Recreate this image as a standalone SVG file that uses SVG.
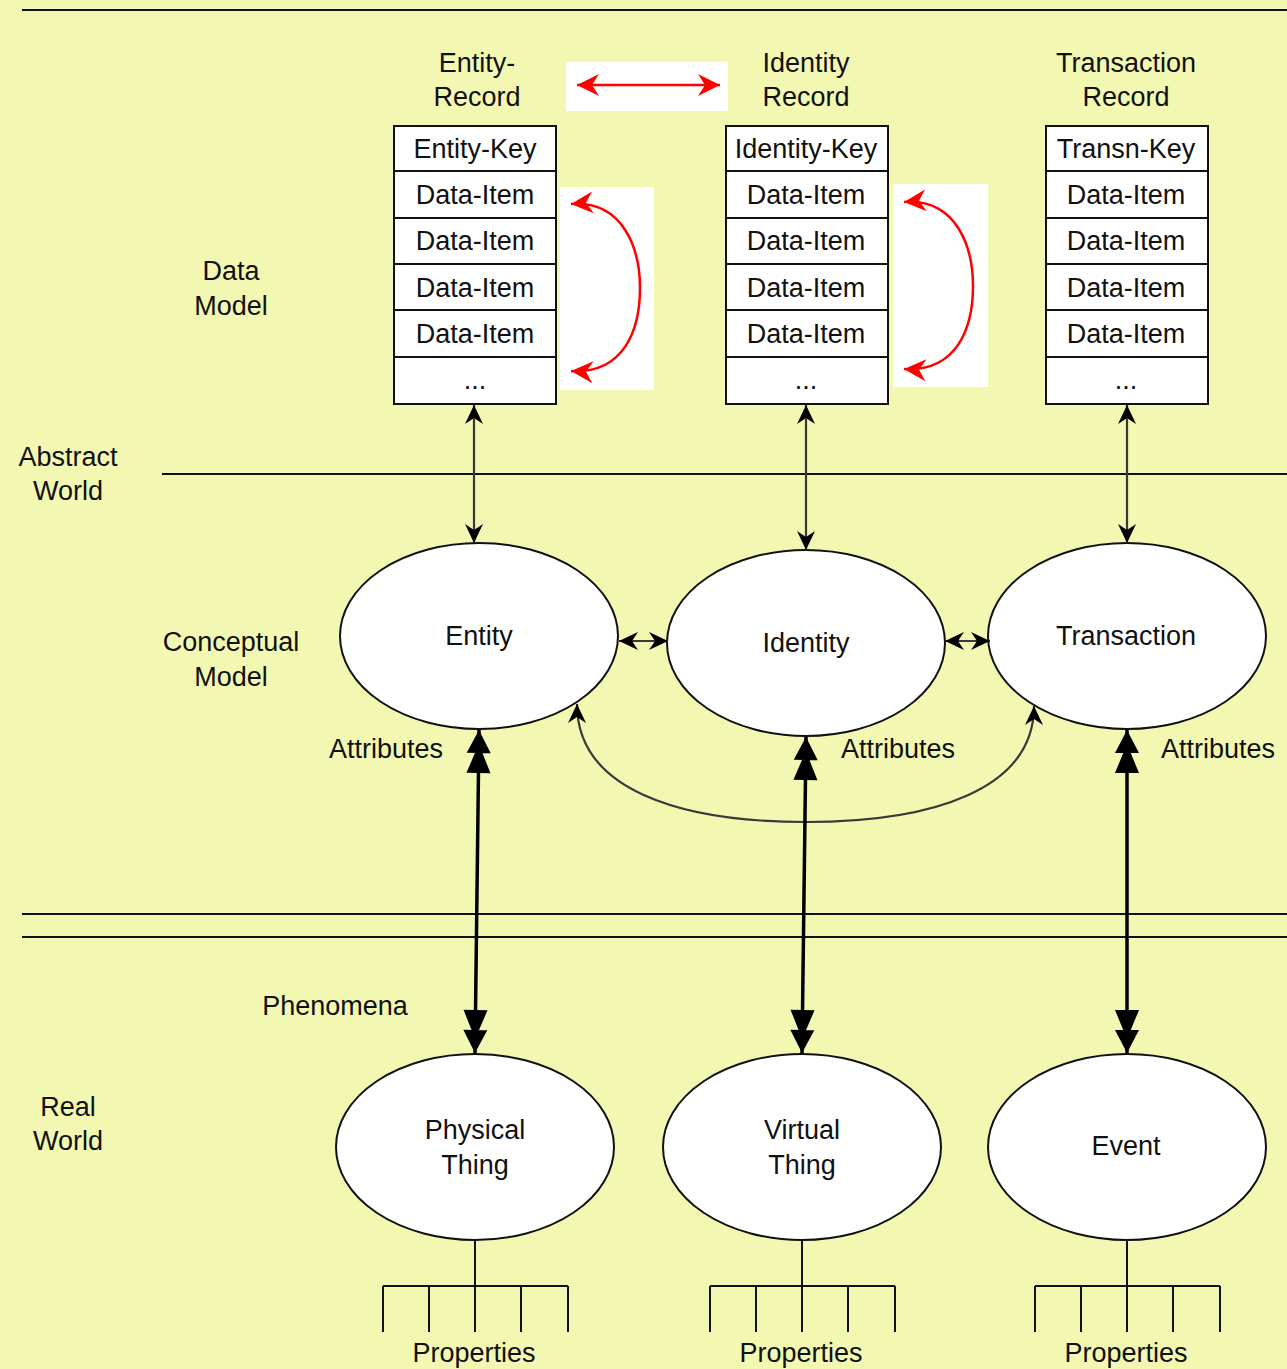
<svg xmlns="http://www.w3.org/2000/svg" width="1287" height="1369" viewBox="0 0 1287 1369">
  <style>
    text { font-family: "Liberation Sans", Arial, Helvetica, sans-serif; font-size: 27px; fill: #111; text-anchor: middle; }
    .rule { stroke: #111; stroke-width: 2; fill: none; }
    .cell { fill: #fff; stroke: #111; stroke-width: 2; }
    .oval { fill: #fff; stroke: #111; stroke-width: 2; }
    .thin { stroke: #3a3a3a; stroke-width: 2.2; fill: none; }
    .thick { stroke: #000; stroke-width: 3.5; fill: none; }
    .red { stroke: #ff0000; stroke-width: 2.5; fill: none; }
    .tree { stroke: #111; stroke-width: 2; fill: none; }
  </style>
  <defs>
    <marker id="arr" viewBox="-20 -10 21 20" refX="0" refY="0" markerWidth="21" markerHeight="20" markerUnits="userSpaceOnUse" orient="auto-start-reverse">
      <path d="M0,0 L-19,-9 L-13,0 L-19,9 Z" fill="#000"/>
    </marker>
    <marker id="arrRed" viewBox="-24 -12 25 24" refX="0" refY="0" markerWidth="25" markerHeight="24" markerUnits="userSpaceOnUse" orient="auto-start-reverse">
      <path d="M0,0 L-22,-11 L-15,0 L-22,11 Z" fill="#ff0000"/>
    </marker>
    <marker id="dbl" viewBox="-45 -13 46 26" refX="0" refY="0" markerWidth="46" markerHeight="26" markerUnits="userSpaceOnUse" orient="auto-start-reverse">
      <path d="M0,0 L-23,-12 L-23,12 Z M-14,0 L-43,-12 L-43,12 Z" fill="#000"/>
    </marker>
  </defs>

  <rect width="1287" height="1369" fill="#f2f8b1"/>

  <!-- layer separators -->
  <g id="separators">
    <line class="rule" x1="22" y1="10" x2="1287" y2="10"/>
    <line class="rule" x1="162" y1="474" x2="1287" y2="474"/>
    <line class="rule" x1="22" y1="914" x2="1287" y2="914"/>
    <line class="rule" x1="22" y1="937" x2="1287" y2="937"/>
  </g>

  <!-- side labels -->
  <g id="labels">
    <text x="231" y="280">Data</text>
    <text x="231" y="315">Model</text>
    <text x="68" y="466">Abstract</text>
    <text x="68" y="500">World</text>
    <text x="231" y="651">Conceptual</text>
    <text x="231" y="686">Model</text>
    <text x="335" y="1015">Phenomena</text>
    <text x="68" y="1116">Real</text>
    <text x="68" y="1150">World</text>
    <text x="386" y="758">Attributes</text>
    <text x="898" y="758">Attributes</text>
    <text x="1218" y="758">Attributes</text>
  </g>

  <!-- record tables -->
  <g id="entity-record">
    <text x="477" y="72">Entity-</text>
    <text x="477" y="106">Record</text>
    <rect class="cell" x="394" y="126" width="162" height="45"/>
    <rect class="cell" x="394" y="171" width="162" height="47"/>
    <rect class="cell" x="394" y="218" width="162" height="46"/>
    <rect class="cell" x="394" y="264" width="162" height="46"/>
    <rect class="cell" x="394" y="310" width="162" height="47"/>
    <rect class="cell" x="394" y="357" width="162" height="47"/>
    <text x="475" y="158">Entity-Key</text>
    <text x="475" y="204">Data-Item</text>
    <text x="475" y="250">Data-Item</text>
    <text x="475" y="297">Data-Item</text>
    <text x="475" y="343">Data-Item</text>
    <text x="475" y="389">...</text>
  </g>

  <g id="identity-record">
    <text x="806" y="72">Identity</text>
    <text x="806" y="106">Record</text>
    <rect class="cell" x="726" y="126" width="162" height="45"/>
    <rect class="cell" x="726" y="171" width="162" height="47"/>
    <rect class="cell" x="726" y="218" width="162" height="46"/>
    <rect class="cell" x="726" y="264" width="162" height="46"/>
    <rect class="cell" x="726" y="310" width="162" height="47"/>
    <rect class="cell" x="726" y="357" width="162" height="47"/>
    <text x="806" y="158">Identity-Key</text>
    <text x="806" y="204">Data-Item</text>
    <text x="806" y="250">Data-Item</text>
    <text x="806" y="297">Data-Item</text>
    <text x="806" y="343">Data-Item</text>
    <text x="806" y="389">...</text>
  </g>

  <g id="transaction-record">
    <text x="1126" y="72">Transaction</text>
    <text x="1126" y="106">Record</text>
    <rect class="cell" x="1046" y="126" width="162" height="45"/>
    <rect class="cell" x="1046" y="171" width="162" height="47"/>
    <rect class="cell" x="1046" y="218" width="162" height="46"/>
    <rect class="cell" x="1046" y="264" width="162" height="46"/>
    <rect class="cell" x="1046" y="310" width="162" height="47"/>
    <rect class="cell" x="1046" y="357" width="162" height="47"/>
    <text x="1126" y="158">Transn-Key</text>
    <text x="1126" y="204">Data-Item</text>
    <text x="1126" y="250">Data-Item</text>
    <text x="1126" y="297">Data-Item</text>
    <text x="1126" y="343">Data-Item</text>
    <text x="1126" y="389">...</text>
  </g>

  <!-- conceptual model -->
  <g id="entity">
    <ellipse class="oval" cx="479" cy="636" rx="139" ry="93"/>
    <text x="479" y="645">Entity</text>
  </g>
  <g id="identity">
    <ellipse class="oval" cx="806" cy="643" rx="139" ry="93"/>
    <text x="806" y="652">Identity</text>
  </g>
  <g id="transaction">
    <ellipse class="oval" cx="1127" cy="636" rx="139" ry="93"/>
    <text x="1126" y="645">Transaction</text>
  </g>

  <!-- real world -->
  <g id="physical-thing">
    <ellipse class="oval" cx="475" cy="1147" rx="139" ry="93"/>
    <text x="475" y="1139">Physical</text>
    <text x="475" y="1174">Thing</text>
  </g>
  <g id="virtual-thing">
    <ellipse class="oval" cx="802" cy="1147" rx="139" ry="93"/>
    <text x="802" y="1139">Virtual</text>
    <text x="802" y="1174">Thing</text>
  </g>
  <g id="event">
    <ellipse class="oval" cx="1127" cy="1147" rx="139" ry="93"/>
    <text x="1126" y="1155">Event</text>
  </g>

  <!-- property fans -->
  <g id="properties-physical">
    <path class="tree" d="M475,1240 V1286 M383,1286 H568 M383,1286 V1332 M429,1286 V1332 M475,1286 V1332 M521,1286 V1332 M568,1286 V1332"/>
    <text x="474" y="1362">Properties</text>
  </g>
  <g id="properties-virtual">
    <path class="tree" d="M802,1240 V1286 M710,1286 H895 M710,1286 V1332 M756,1286 V1332 M802,1286 V1332 M848,1286 V1332 M895,1286 V1332"/>
    <text x="801" y="1362">Properties</text>
  </g>
  <g id="properties-event">
    <path class="tree" d="M1127,1240 V1286 M1035,1286 H1220 M1035,1286 V1332 M1081,1286 V1332 M1127,1286 V1332 M1173,1286 V1332 M1220,1286 V1332"/>
    <text x="1126" y="1362">Properties</text>
  </g>

  <!-- highlight panels -->
  <g id="highlights">
    <rect x="566" y="62" width="162" height="49" fill="#fff"/>
    <rect x="560" y="187" width="94" height="203" fill="#fff"/>
    <rect x="893" y="184" width="95" height="203" fill="#fff"/>
  </g>

  <!-- connectors -->
  <g id="connectors">
    <line class="red" x1="577" y1="85" x2="720" y2="85" marker-start="url(#arrRed)" marker-end="url(#arrRed)"/>
    <path class="red" d="M571,204 C624,200 640,250 640,288 C640,330 624,374 571,371" marker-start="url(#arrRed)" marker-end="url(#arrRed)"/>
    <path class="red" d="M904,202 C957,198 973,248 973,286 C973,328 957,372 904,369" marker-start="url(#arrRed)" marker-end="url(#arrRed)"/>

    <line class="thin" x1="474" y1="405" x2="474" y2="543" marker-start="url(#arr)" marker-end="url(#arr)"/>
    <line class="thin" x1="806" y1="405" x2="806" y2="550" marker-start="url(#arr)" marker-end="url(#arr)"/>
    <line class="thin" x1="1127" y1="405" x2="1127" y2="543" marker-start="url(#arr)" marker-end="url(#arr)"/>

    <line class="thin" x1="619" y1="641" x2="668" y2="641" marker-start="url(#arr)" marker-end="url(#arr)"/>
    <line class="thin" x1="945" y1="641" x2="990" y2="641" marker-start="url(#arr)" marker-end="url(#arr)"/>

    <path class="thin" d="M577,704 C577,790 680,822 806,822 C932,822 1034,790 1034,706" marker-start="url(#arr)" marker-end="url(#arr)"/>

    <line class="thick" x1="479" y1="730" x2="475" y2="1053" marker-start="url(#dbl)" marker-end="url(#dbl)"/>
    <line class="thick" x1="806" y1="737" x2="802" y2="1053" marker-start="url(#dbl)" marker-end="url(#dbl)"/>
    <line class="thick" x1="1127" y1="730" x2="1127" y2="1053" marker-start="url(#dbl)" marker-end="url(#dbl)"/>
  </g>
</svg>
